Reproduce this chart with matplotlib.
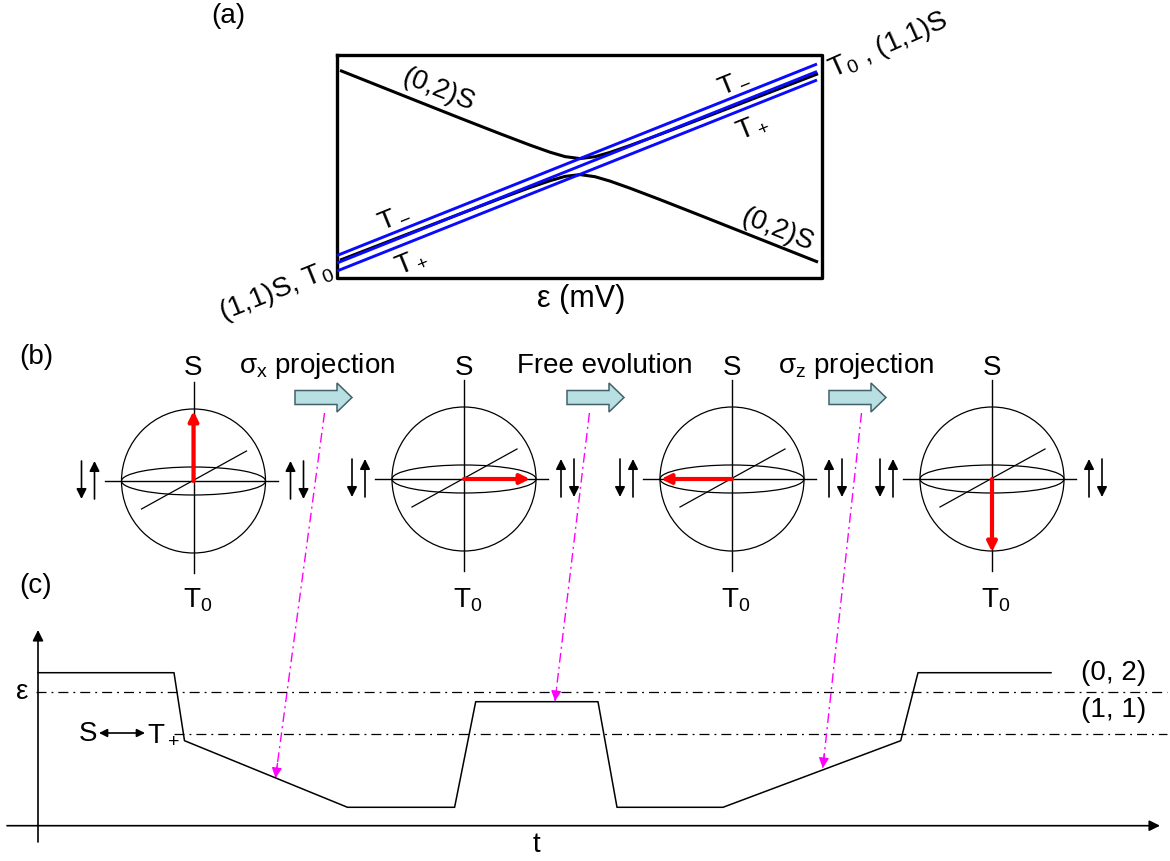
import matplotlib.pyplot as plt
from matplotlib.patches import Circle, Ellipse, FancyArrow

plt.rcParams['font.family'] = ['Liberation Sans', 'DejaVu Sans']
plt.rcParams['mathtext.fontset'] = 'custom'
plt.rcParams['mathtext.rm'] = 'Liberation Sans'
plt.rcParams['mathtext.it'] = 'Liberation Sans:italic'

# everything is placed in figure pixel units (y grows downwards)

# (a) singlet anticrossing and triplet levels vs detuning
eps_a = [340, 400, 460, 500, 530, 550, 565, 580, 595, 610, 630, 660, 700, 760, 818]
upper_branch = [70.4, 94.3, 118.1, 133.7, 145.1, 152.2, 156.6, 158.6, 156.7, 152.4,
                145.5, 134.4, 119.2, 96.1, 73.7]
lower_branch = [260.2, 237.0, 213.9, 198.6, 187.5, 180.7, 176.4, 174.6, 176.7, 181.1,
                188.2, 199.6, 215.3, 239.1, 262.1]
triplet_eps = [337, 817]
t_minus = [255.5, 64]
t_zero = [263, 71.5]
t_plus = [271, 80]
box_x = [337, 822]
box_y = [55, 278]

# (b) Bloch spheres
sphere_x = [193.5, 464, 732, 992]
sphere_y = [481, 479, 479, 479]
state_dx = [0, 66, -71, 0]
state_dy = [-70, 0, 0, 73]
step_labels = ['σ$_\\mathrm{x}$ projection', 'Free evolution', 'σ$_\\mathrm{z}$ projection']
step_label_x = [239, 517, 778]
step_arrow_x = [295, 567, 829]

# magenta guides from (b) to (c)
guide_x0 = [324.5, 589.4, 861.5]
guide_y0 = [413, 413, 413]
guide_x1 = [275.5, 555, 822.8]
guide_y1 = [778, 701, 768]

# (c) detuning pulse
pulse_t = [38, 174, 184.5, 347.5, 454.6, 475.7, 598, 617, 723, 900.7, 918, 1051]
pulse_eps = [672.7, 672.7, 740.7, 807.3, 807.3, 701.7, 701.7, 807.3, 807.3, 740.7,
             672.7, 672.7]
level_y = [692, 734]
level_x0 = [36, 174]
level_labels = ['(0, 2)', '(1, 1)']
level_label_y = [673, 710]

fig = plt.figure(figsize=(11.7, 8.61), dpi=100)
ax = fig.add_axes([0, 0, 1, 1])
ax.set_xlim(0, 1170)
ax.set_ylim(861, 0)
ax.axis('off')

FS = 20

# ---- panel (a)
ax.plot([box_x[0], box_x[1], box_x[1], box_x[0], box_x[0]],
        [box_y[0], box_y[0], box_y[1], box_y[1], box_y[0]], color='black', lw=2.4)
ax.plot(eps_a, upper_branch, color='black', lw=2.2, solid_capstyle='butt')
ax.plot(eps_a, lower_branch, color='black', lw=2.2, solid_capstyle='butt')
for lvl in (t_minus, t_zero, t_plus):
    ax.plot(triplet_eps, lvl, color='#0a0aff', lw=2.1, solid_capstyle='butt')

ax.text(228, 16, '(a)', fontsize=FS, ha='center', va='center')
ax.text(438, 90, '(0,2)S', fontsize=FS, rotation=-22, ha='center', va='center',
        rotation_mode='anchor')
ax.text(777, 230, '(0,2)S', fontsize=FS, rotation=-22, ha='center', va='center',
        rotation_mode='anchor')
ax.text(733, 80, 'T$_-$', fontsize=FS, rotation=22, ha='center', va='center',
        rotation_mode='anchor')
ax.text(752, 126, 'T$_+$', fontsize=FS, rotation=22, ha='center', va='center',
        rotation_mode='anchor')
ax.text(393, 215, 'T$_-$', fontsize=FS, rotation=22, ha='center', va='center',
        rotation_mode='anchor')
ax.text(411, 261, 'T$_+$', fontsize=FS, rotation=22, ha='center', va='center',
        rotation_mode='anchor')
ax.text(888, 45, 'T$_0$ , (1,1)S', fontsize=FS, rotation=24, ha='center', va='center',
        rotation_mode='anchor')
ax.text(276, 292, '(1,1)S, T$_0$', fontsize=FS, rotation=22, ha='center', va='center',
        rotation_mode='anchor')
ax.text(581, 299, 'ε (mV)', fontsize=22, ha='center', va='center')

# ---- panel (b)
ax.text(36, 357, '(b)', fontsize=FS, ha='center', va='center')
for cx, cy, dx, dy in zip(sphere_x, sphere_y, state_dx, state_dy):
    ax.add_patch(Circle((cx, cy), 72, fill=False, lw=0.9, color='black'))
    ax.add_patch(Ellipse((cx, cy), 144, 28, fill=False, lw=0.9, color='black'))
    ax.plot([cx, cx], [cy - 99, cy + 92], color='black', lw=1.0)
    ax.plot([cx - 89, cx + 84], [cy, cy], color='black', lw=1.0)
    ax.plot([cx - 52, cx + 53], [cy + 28, cy - 30], color='black', lw=0.9)
    ax.annotate('', xy=(cx + dx, cy + dy), xytext=(cx, cy),
                arrowprops=dict(arrowstyle='-|>', color='red', lw=3,
                                mutation_scale=14, shrinkA=0, shrinkB=0))
    ax.text(cx, 375, 'S', fontsize=FS, ha='center', va='baseline')
    ax.text(cx + 4, 607, 'T$_0$', fontsize=FS, ha='center', va='baseline')
    # spin arrows: down-up on the left, up-down on the right
    for off, up in ((-112, False), (-99, True), (97, True), (110, False)):
        y_tip, y_tail = (460, 498) if up else (498, 460)
        ax.annotate('', xy=(cx + off, y_tip + cy - 480), xytext=(cx + off, y_tail + cy - 480),
                    arrowprops=dict(arrowstyle='-|>', color='black', lw=1.2,
                                    mutation_scale=15, shrinkA=0, shrinkB=0))

for lx, lab in zip(step_label_x, step_labels):
    ax.text(lx, 373, lab, fontsize=FS, ha='left', va='baseline')
for axx in step_arrow_x:
    ax.add_patch(FancyArrow(axx, 397.5, 57, 0, width=14, head_width=29, head_length=15,
                            length_includes_head=True, fc='#b8dfe2', ec='#44626a', lw=1.1))

for x0, y0, x1, y1 in zip(guide_x0, guide_y0, guide_x1, guide_y1):
    ax.plot([x0, x1], [y0, y1], color='#ff00ff', lw=1.0, ls=(0, (7, 3, 1.5, 3)))
    ax.annotate('', xy=(x1, y1), xytext=(x1 + (x0 - x1) * 0.04, y1 + (y0 - y1) * 0.04),
                arrowprops=dict(arrowstyle='-|>', color='#ff00ff', lw=1.0,
                                mutation_scale=15, shrinkA=0, shrinkB=0))

# ---- panel (c)
ax.text(35.5, 586, '(c)', fontsize=FS, ha='center', va='center')
ax.annotate('', xy=(38, 630), xytext=(38, 842),
            arrowprops=dict(arrowstyle='-|>', color='black', lw=1.2,
                            mutation_scale=16, shrinkA=0, shrinkB=0))
ax.annotate('', xy=(1160, 825.7), xytext=(7, 825.7),
            arrowprops=dict(arrowstyle='-|>', color='black', lw=1.2,
                            mutation_scale=16, shrinkA=0, shrinkB=0))
for ly, lx0 in zip(level_y, level_x0):
    ax.plot([lx0, 1167], [ly, ly], color='black', lw=0.9, ls=(0, (8, 4, 1.5, 4)))
ax.plot(pulse_t, pulse_eps, color='black', lw=1.1)
for lab, ly in zip(level_labels, level_label_y):
    ax.text(1113.5, ly, lab, fontsize=FS, ha='center', va='center')
ax.text(22, 692, 'ε', fontsize=FS, ha='center', va='center')
ax.text(536, 845, 't', fontsize=FS, ha='center', va='center')
ax.text(88, 734, 'S', fontsize=FS, ha='center', va='center')
ax.text(147, 734, 'T$_+$', fontsize=FS, ha='left', va='center')
ax.annotate('', xy=(99, 733), xytext=(145, 733),
            arrowprops=dict(arrowstyle='<|-|>', color='black', lw=1.2,
                            mutation_scale=12, shrinkA=0, shrinkB=0))

fig.savefig('out.png', dpi=100)
